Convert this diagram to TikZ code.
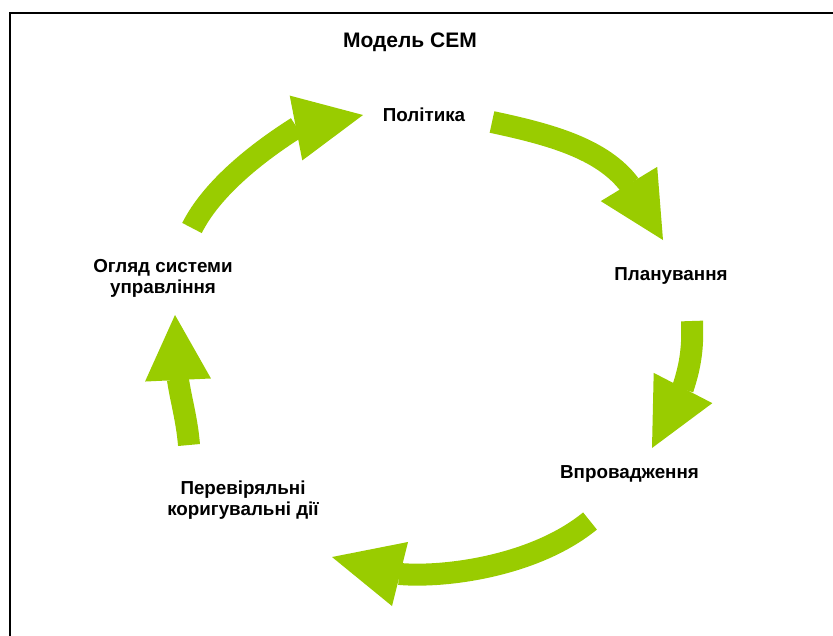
\documentclass[tikz,border=0pt]{standalone}
\usepackage{fontspec}
\setmainfont{Liberation Sans}
\usetikzlibrary{calc}
\definecolor{cemgreen}{RGB}{153,204,0}

\begin{document}
\begin{tikzpicture}[x=1pt, y=-1pt,
    phase/.style={font=\bfseries\fontsize{18.8}{21}\selectfont, align=center, inner sep=0pt},
    heading/.style={font=\bfseries\fontsize{21}{25}\selectfont, inner sep=0pt},
    shaft/.style={draw=cemgreen, line width=22pt, shorten >=-1pt},
    arrowhead/.style={fill=cemgreen}]
  \useasboundingbox (0,0) rectangle (833,635);
  \draw[line width=2pt] (10,640) -- (10,13) -- (840,13);

  \node[heading] (title) at (410,42.5) {Модель СЕМ};
  \node[phase] (policy) at (424,115) {Політика};
  \node[phase] (plan) at (671,275.5) {Планування};
  \node[phase] (impl) at (629.5,473.5) {Впровадження};
  \node[phase] (check) at (243,500.5) {Перевіряльні\\коригувальні дії};
  \node[phase] (review) at (163,278) {Огляд системи\\управління};

  % tail, two controls, base of the head, tip
  \coordinate (tail1) at (192,228); \coordinate (ca1) at (212,188); \coordinate (cb1) at (258,152); \coordinate (base1) at (296,128); \coordinate (tip1) at (363,115);
  \coordinate (tail2) at (492,122); \coordinate (ca2) at (548,134); \coordinate (cb2) at (602,148); \coordinate (base2) at (629,184); \coordinate (tip2) at (663,240);
  \coordinate (tail3) at (692,321); \coordinate (ca3) at (693,346); \coordinate (cb3) at (691,364); \coordinate (base3) at (683,388); \coordinate (tip3) at (652,448);
  \coordinate (tail4) at (590,521); \coordinate (ca4) at (535,566); \coordinate (cb4) at (445,578); \coordinate (base4) at (400,574); \coordinate (tip4) at (332,557);
  \coordinate (tail5) at (189,445); \coordinate (ca5) at (187,420); \coordinate (cb5) at (181,400); \coordinate (base5) at (178,380); \coordinate (tip5) at (175,315);

  \foreach \i in {1,...,5} {
    \draw[shaft] (tail\i) .. controls (ca\i) and (cb\i) .. (base\i);
    \fill[arrowhead] ($(base\i)!33pt!90:(tip\i)$) -- (tip\i) -- ($(base\i)!33pt!-90:(tip\i)$) -- cycle;
  }
\end{tikzpicture}
\end{document}
